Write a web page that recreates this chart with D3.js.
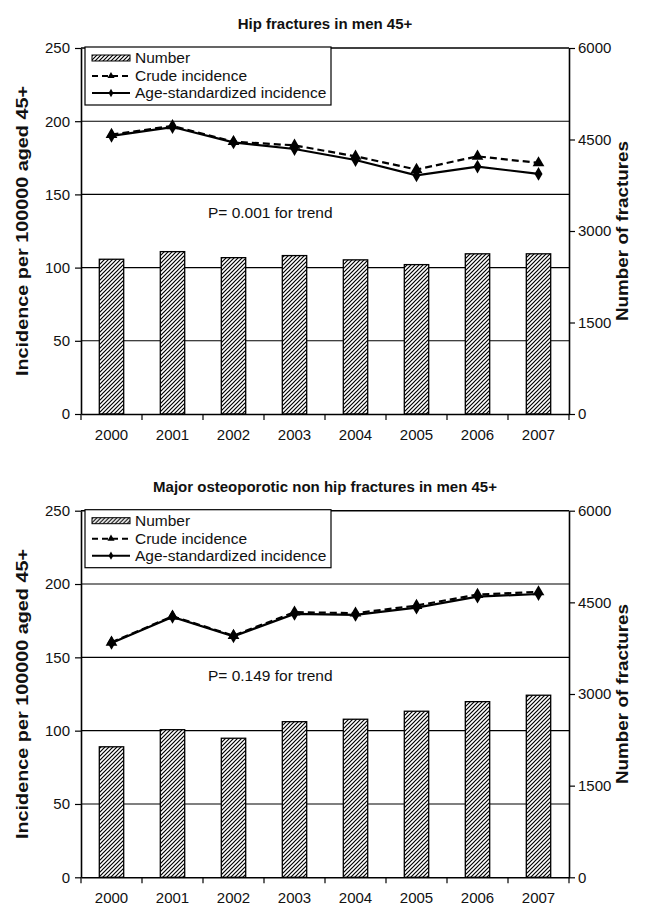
<!DOCTYPE html>
<html><head><meta charset="utf-8">
<script src="https://cdn.jsdelivr.net/npm/d3@7/dist/d3.min.js"></script>
<style>
body{margin:0;background:#fff;}
svg{display:block;font-family:"Liberation Sans",Arial,sans-serif;}
</style></head>
<body>
<svg id="chart" width="646" height="906"></svg>
<script>
const years = ["2000","2001","2002","2003","2004","2005","2006","2007"];
const hipNumber = [2537, 2662, 2563, 2597, 2527, 2449, 2626, 2626];
const hipCrude = [190.8, 196.8, 186, 183.5, 176, 167, 176, 171.5];
const hipAge = [190, 196, 185.5, 181, 173.5, 163, 169, 164];
const nonhipNumber = [2136, 2416, 2276, 2547, 2587, 2718, 2875, 2980];
const nonhipCrude = [160.2, 178, 164.8, 180.8, 180.1, 185.3, 192.8, 194.6];
const nonhipAge = [159.8, 177.6, 164.4, 179.6, 178.9, 183.9, 191.4, 193.2];
const leftTicks = [0, 50, 100, 150, 200, 250];
const rightTicks = [0, 1500, 3000, 4500, 6000];
const titles = ["Hip fractures in men 45+", "Major osteoporotic non hip fractures in men 45+"];
const pTexts = ["P= 0.001 for trend", "P= 0.149 for trend"];
const legendLabels = ["Number", "Crude incidence", "Age-standardized incidence"];
const leftTitle = "Incidence per 100000 aged 45+";
const rightTitle = "Number of fractures";

const svg = d3.select("#chart");
const defs = svg.append("defs");
const pat = defs.append("pattern").attr("id","hatch").attr("patternUnits","userSpaceOnUse")
  .attr("width",4).attr("height",4);
pat.append("rect").attr("width",4).attr("height",4).attr("fill","#fff");
pat.append("path").attr("d","M-1,1 l2,-2 M0,4 l4,-4 M3,5 l2,-2").attr("stroke","#000").attr("stroke-width",1.2);

const X0 = 81, X1 = 569;
const x = d3.scaleBand().domain(years).range([X0, X1]).paddingInner(0).paddingOuter(0);

function panel(top, bottom, title, pText, numbers, crude, age) {
  const g = svg.append("g");
  const yL = d3.scaleLinear().domain([0, 250]).range([bottom, top]);
  const yR = d3.scaleLinear().domain([0, 6000]).range([bottom, top]);

  // gridlines
  g.selectAll(".grid").data(leftTicks.filter(d => d > 0)).join("line")
    .attr("x1", X0).attr("x2", X1).attr("y1", d => yL(d)).attr("y2", d => yL(d))
    .attr("stroke", "#000").attr("stroke-width", d => d === 250 ? 1.6 : 1.1);

  // bars
  const bw = x.bandwidth() * 0.4;
  g.selectAll(".bar").data(numbers).join("rect")
    .attr("x", (d, i) => x(years[i]) + x.bandwidth() / 2 - bw / 2)
    .attr("width", bw)
    .attr("y", d => yR(d)).attr("height", d => yR(0) - yR(d))
    .attr("fill", "url(#hatch)").attr("stroke", "#000").attr("stroke-width", 1.3);

  const cx = (d, i) => x(years[i]) + x.bandwidth() / 2;
  const line = d3.line().x(cx).y(d => yL(d));
  g.append("path").datum(crude).attr("d", line).attr("fill", "none")
    .attr("stroke", "#000").attr("stroke-width", 2.2).attr("stroke-dasharray", "7,4");
  g.append("path").datum(age).attr("d", line).attr("fill", "none")
    .attr("stroke", "#000").attr("stroke-width", 2.2);
  const tri = d3.symbol().type(d3.symbolTriangle).size(60);
  const dia = d3.symbol().type(d3.symbolDiamond).size(55);
  g.selectAll(".tri").data(crude).join("path")
    .attr("transform", (d, i) => `translate(${cx(d, i)},${yL(d)})`).attr("d", tri).attr("fill", "#000");
  g.selectAll(".dia").data(age).join("path")
    .attr("transform", (d, i) => `translate(${cx(d, i)},${yL(d)})`).attr("d", dia).attr("fill", "#000");

  // axes
  const axL = g.append("g").attr("transform", `translate(${X0},0)`)
    .call(d3.axisLeft(yL).tickValues(leftTicks).tickSize(6).tickSizeOuter(0).tickPadding(5));
  const axR = g.append("g").attr("transform", `translate(${X1},0)`)
    .call(d3.axisRight(yR).tickValues(rightTicks).tickFormat(d3.format("d")).tickSize(6).tickSizeOuter(0).tickPadding(3));
  const axB = g.append("g").attr("transform", `translate(0,${bottom})`)
    .call(d3.axisBottom(x).tickSize(0).tickPadding(15));
  [axL, axR, axB].forEach(a => {
    a.selectAll("text").attr("font-size", 15).attr("fill", "#111").attr("font-family", "Liberation Sans, Arial, sans-serif");
    a.selectAll("line").attr("stroke", "#000").attr("stroke-width", 1.2);
    a.select(".domain").attr("stroke", "#000").attr("stroke-width", 1.6);
  });
  // x tick marks at band boundaries
  const bounds = years.map(y => x(y)).concat([X1]);
  g.selectAll(".xt").data(bounds).join("line")
    .attr("x1", d => d).attr("x2", d => d).attr("y1", bottom).attr("y2", bottom + 6)
    .attr("stroke", "#000").attr("stroke-width", 1.2);

  // title
  g.append("text").attr("x", 325).attr("y", top - 19).attr("text-anchor", "middle")
    .attr("font-size", 15).attr("font-weight", "bold").attr("fill", "#111").text(title);
  // p text
  g.append("text").attr("x", 208).attr("y", yL(150) + 24).attr("font-size", 15.5).attr("fill", "#111").text(pText);

  // axis titles
  const midY = (top + bottom) / 2;
  g.append("text").attr("transform", `translate(28,${midY}) rotate(-90)`).attr("text-anchor", "middle")
    .attr("font-size", 16).attr("font-weight", "bold").attr("fill", "#111")
    .attr("textLength", 290).attr("lengthAdjust", "spacingAndGlyphs").text(leftTitle);
  g.append("text").attr("transform", `translate(628,${midY}) rotate(-90)`).attr("text-anchor", "middle")
    .attr("font-size", 16).attr("font-weight", "bold").attr("fill", "#111")
    .attr("textLength", 180).attr("lengthAdjust", "spacingAndGlyphs").text(rightTitle);

  // legend
  const lg = g.append("g").attr("transform", `translate(85,${top - 1})`);
  lg.append("rect").attr("x", 0).attr("y", 0).attr("width", 246).attr("height", 58)
    .attr("fill", "#fff").attr("stroke", "#000").attr("stroke-width", 1.2);
  const rows = [16, 34, 51];
  lg.append("rect").attr("x", 7).attr("y", rows[0] - 8).attr("width", 38).attr("height", 6)
    .attr("fill", "url(#hatch)").attr("stroke", "#000").attr("stroke-width", 1);
  lg.append("line").attr("x1", 7).attr("x2", 45).attr("y1", rows[1] - 5).attr("y2", rows[1] - 5)
    .attr("stroke", "#000").attr("stroke-width", 2).attr("stroke-dasharray", "6,4");
  lg.append("path").attr("transform", `translate(26,${rows[1] - 5})`)
    .attr("d", d3.symbol().type(d3.symbolTriangle).size(22)).attr("fill", "#000");
  lg.append("line").attr("x1", 7).attr("x2", 45).attr("y1", rows[2] - 5).attr("y2", rows[2] - 5)
    .attr("stroke", "#000").attr("stroke-width", 2);
  lg.append("path").attr("transform", `translate(26,${rows[2] - 5})`)
    .attr("d", d3.symbol().type(d3.symbolDiamond).size(20)).attr("fill", "#000");
  lg.selectAll(".lt").data(legendLabels).join("text")
    .attr("x", 50).attr("y", (d, i) => rows[i]).attr("font-size", 15.5).attr("fill", "#111").text(d => d);
}

panel(48, 414, titles[0], pTexts[0], hipNumber, hipCrude, hipAge);
panel(510.7, 877.3, titles[1], pTexts[1], nonhipNumber, nonhipCrude, nonhipAge);
</script>
</body></html>
